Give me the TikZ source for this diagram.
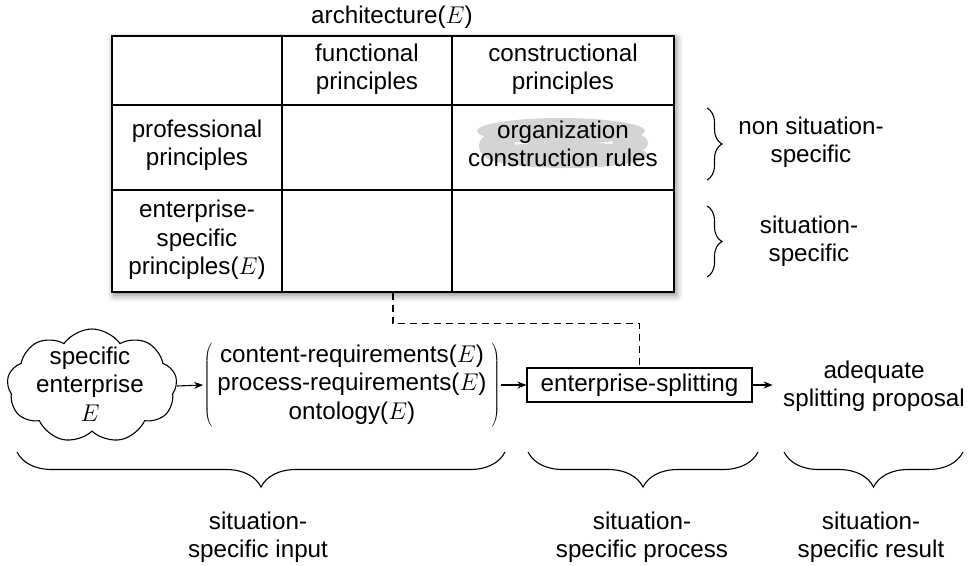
\RequirePackage{fix-cm}
\documentclass[tikz,border=0pt]{standalone}
\usepackage{fontspec}
\setmainfont{Liberation Sans}
\usetikzlibrary{shapes.symbols,shadows.blur,decorations.pathreplacing,arrows.meta}

\begin{document}
\begin{tikzpicture}[x=1pt,y=-1pt, line width=1.1pt,
  every node/.style={font=\fontsize{24.2}{28.5}\selectfont, align=center, inner sep=0pt},
  grid/.style={line width=1.2pt},
  arr/.style={-{Stealth[length=9pt,width=7pt]}, line width=1.1pt},
  rbrace/.style={decorate, decoration={brace, amplitude=15pt}},
  bbrace/.style={decorate, decoration={brace, mirror, amplitude=35pt}},
  cellbox/.style={draw, fill=white, line width=1.4pt,
    blur shadow={shadow xshift=2pt, shadow yshift=-3pt, shadow blur radius=7pt, shadow opacity=50}},
  blob/.style={fill=black!17},
]
\useasboundingbox (0,0) rectangle (974,565);

% architecture table
\node (arch) at (392,17) {architecture($E$)};
\node[cellbox, minimum width=562pt, minimum height=256pt] (tbl) at (393,164) {};
\draw[grid] (282,36) -- (282,292);
\draw[grid] (452,36) -- (452,292);
\draw[grid] (112,105) -- (674,105);
\draw[grid] (112,190) -- (674,190);

\node (fp) at (367,69) {functional\\principles};
\node (cp) at (563,69) {constructional\\principles};
\node (pp) at (197,145) {professional\\principles};
\node (ep) at (197,240) {enterprise-\\specific\\principles($E$)};

% soft grey patch behind the construction rules
\fill[blob] (561,131) ellipse [x radius=84, y radius=13];
\fill[blob] (566,155) ellipse [x radius=82, y radius=13];
\fill[blob] (497,146) ellipse [x radius=18, y radius=14];
\fill[blob] (630,143) ellipse [x radius=18, y radius=10];
\node (orgtxt) at (563,144) {organization\\construction rules};

% braces on the right of the table
\draw[rbrace] (707,108) -- (707,180);
\draw[rbrace] (707,206) -- (707,277);
\node (nss) at (811,142) {non situation-\\specific};
\node (ss) at (809,241) {situation-\\specific};

% process row
\node[cloud, draw, cloud puffs=9, cloud puff arc=110, aspect=1.5,
      minimum width=170pt, minimum height=114pt] (ent) at (92,386) {};
\node (enttxt) at (90,384) {specific\\enterprise\\$E$};

\node (req) at (352,385) {$\left(\vcenter{\hbox{\hspace{5pt}\renewcommand{\arraystretch}{1.0}%
  \begin{tabular}{@{}c@{}}content-requirements($E$)\\process-requirements($E$)\\ontology($E$)\end{tabular}\hspace{5pt}}}\right)$};

\node[draw, minimum width=225pt, minimum height=34pt] (split) at (639.5,385) {enterprise-splitting};
\node[inner xsep=10pt] (res) at (874,386) {adequate\\splitting proposal};

\draw[arr] (ent.east) -- (req.west);
\draw[arr] (req.east) -- (split.west);
\draw[arr] (split.east) -- (res.west |- split.east);
\draw[dash pattern=on 7pt off 5pt] (tbl.south) -- ++(0,31) -| (split.north);

% braces under the process row
\draw[bbrace] (17,452) -- (505,452);
\draw[bbrace] (528,452) -- (758,452);
\draw[bbrace] (784,452) -- (963,452);
\node (sin) at (258,537) {situation-\\specific input};
\node (spr) at (642,537) {situation-\\specific process};
\node (sre) at (871,537) {situation-\\specific result};
\end{tikzpicture}
\end{document}
